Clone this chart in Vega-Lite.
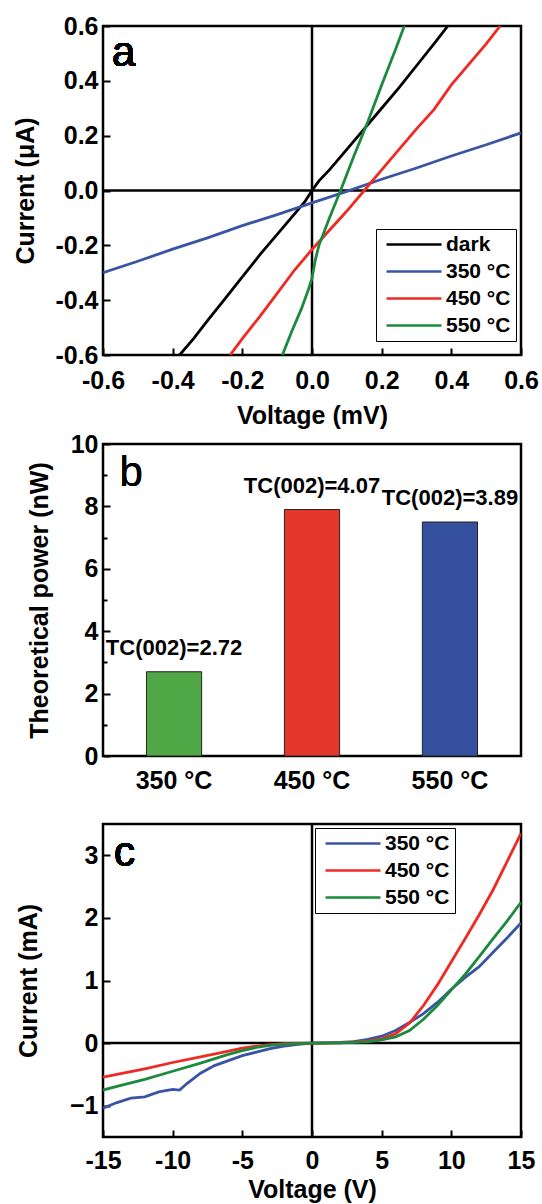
{
  "$schema": "https://vega.github.io/schema/vega-lite/v6.json",
  "background": "white",
  "padding": {"left": 12, "top": 12, "right": 0, "bottom": 0},
  "autosize": {"type": "pad"},
  "spacing": 0,
  "config": {
    "font": "Liberation Sans",
    "view": {"stroke": "black", "strokeWidth": 2.5},
    "axis": {
      "domain": false, "grid": false,
      "labelFont": "Liberation Sans", "labelFontSize": 25, "labelFontWeight": "bold", "labelColor": "black",
      "titleFont": "Liberation Sans", "titleFontSize": 25, "titleFontWeight": "bold", "titleColor": "black",
      "tickColor": "black", "tickWidth": 2,
      "labelOverlap": false, "labelFlush": false, "labelBound": false
    },
    "legend": {
      "title": null, "orient": "none", "symbolType": "M-1,0H10", "symbolSize": 100, "symbolStrokeWidth": 2.5,
      "labelFont": "Liberation Sans", "labelFontSize": 21, "labelFontWeight": "bold", "labelColor": "black",
      "strokeColor": "black", "fillColor": "white", "padding": 5, "rowPadding": 5, "labelOffset": 44
    }
  },
  "resolve": {"scale": {"color": "independent"}, "legend": {"color": "independent"}},
  "vconcat": [
    {
      "width": 418, "height": 329,
      "data": {"values": [
        {"series": "dark", "V": -0.38, "I": -0.6}, {"series": "dark", "V": -0.34, "I": -0.54}, {"series": "dark", "V": -0.3, "I": -0.475},
        {"series": "dark", "V": -0.25, "I": -0.395}, {"series": "dark", "V": -0.2, "I": -0.315}, {"series": "dark", "V": -0.15, "I": -0.235},
        {"series": "dark", "V": -0.1, "I": -0.16}, {"series": "dark", "V": -0.05, "I": -0.085}, {"series": "dark", "V": -0.02, "I": -0.04},
        {"series": "dark", "V": 0.0, "I": 0.0}, {"series": "dark", "V": 0.02, "I": 0.035}, {"series": "dark", "V": 0.05, "I": 0.075},
        {"series": "dark", "V": 0.1, "I": 0.15}, {"series": "dark", "V": 0.15, "I": 0.225}, {"series": "dark", "V": 0.2, "I": 0.3},
        {"series": "dark", "V": 0.25, "I": 0.375}, {"series": "dark", "V": 0.3, "I": 0.455}, {"series": "dark", "V": 0.35, "I": 0.535},
        {"series": "dark", "V": 0.39, "I": 0.6},
        {"series": "350 °C", "V": -0.6, "I": -0.3}, {"series": "350 °C", "V": -0.5, "I": -0.258}, {"series": "350 °C", "V": -0.4, "I": -0.214},
        {"series": "350 °C", "V": -0.3, "I": -0.173}, {"series": "350 °C", "V": -0.2, "I": -0.128}, {"series": "350 °C", "V": -0.1, "I": -0.088},
        {"series": "350 °C", "V": 0.0, "I": -0.045}, {"series": "350 °C", "V": 0.1, "I": -0.003}, {"series": "350 °C", "V": 0.2, "I": 0.041},
        {"series": "350 °C", "V": 0.3, "I": 0.082}, {"series": "350 °C", "V": 0.4, "I": 0.126}, {"series": "350 °C", "V": 0.5, "I": 0.167},
        {"series": "350 °C", "V": 0.6, "I": 0.21},
        {"series": "450 °C", "V": -0.235, "I": -0.6}, {"series": "450 °C", "V": -0.2, "I": -0.54}, {"series": "450 °C", "V": -0.15, "I": -0.46},
        {"series": "450 °C", "V": -0.1, "I": -0.375}, {"series": "450 °C", "V": -0.05, "I": -0.29}, {"series": "450 °C", "V": 0.0, "I": -0.215},
        {"series": "450 °C", "V": 0.05, "I": -0.145}, {"series": "450 °C", "V": 0.1, "I": -0.075}, {"series": "450 °C", "V": 0.15, "I": 0.0},
        {"series": "450 °C", "V": 0.2, "I": 0.075}, {"series": "450 °C", "V": 0.25, "I": 0.15}, {"series": "450 °C", "V": 0.3, "I": 0.225},
        {"series": "450 °C", "V": 0.35, "I": 0.295}, {"series": "450 °C", "V": 0.4, "I": 0.385}, {"series": "450 °C", "V": 0.45, "I": 0.46},
        {"series": "450 °C", "V": 0.5, "I": 0.535}, {"series": "450 °C", "V": 0.54, "I": 0.6},
        {"series": "550 °C", "V": -0.085, "I": -0.6}, {"series": "550 °C", "V": -0.06, "I": -0.52}, {"series": "550 °C", "V": -0.03, "I": -0.43},
        {"series": "550 °C", "V": -0.01, "I": -0.36}, {"series": "550 °C", "V": 0.0, "I": -0.32}, {"series": "550 °C", "V": 0.01, "I": -0.25},
        {"series": "550 °C", "V": 0.02, "I": -0.2}, {"series": "550 °C", "V": 0.05, "I": -0.1}, {"series": "550 °C", "V": 0.082, "I": 0.0},
        {"series": "550 °C", "V": 0.12, "I": 0.125}, {"series": "550 °C", "V": 0.16, "I": 0.25}, {"series": "550 °C", "V": 0.2, "I": 0.385},
        {"series": "550 °C", "V": 0.24, "I": 0.515}, {"series": "550 °C", "V": 0.265, "I": 0.6}
      ]},
      "layer": [
        {
          "data": {"values": [{"I": 0}]},
          "mark": {"type": "rule", "color": "black", "strokeWidth": 2.5},
          "encoding": {"y": {"field": "I", "type": "quantitative"}}
        },
        {
          "data": {"values": [{"V": 0}]},
          "mark": {"type": "rule", "color": "black", "strokeWidth": 2.5},
          "encoding": {"x": {"field": "V", "type": "quantitative"}}
        },
        {
          "mark": {"type": "line", "strokeWidth": 2.8, "clip": true},
          "encoding": {
            "x": {"field": "V", "type": "quantitative", "title": "Voltage (mV)", "scale": {"domain": [-0.6, 0.6], "nice": false, "zero": false},
              "axis": {"values": [-0.6, -0.5, -0.4, -0.3, -0.2, -0.1, 0, 0.1, 0.2, 0.3, 0.4, 0.5, 0.6],
                "labelExpr": "abs(round(datum.value*10))%2==0 ? replace(format(datum.value,'.1f'),'\u2212','-') : ''",
                "tickSize": {"condition": {"test": "abs(round(datum.value*10))%2==0", "value": -7}, "value": -4},
                "labelPadding": 20, "titlePadding": 10}},
            "y": {"field": "I", "type": "quantitative", "title": "Current (μA)", "scale": {"domain": [-0.6, 0.6], "nice": false, "zero": false},
              "axis": {"values": [-0.6, -0.5, -0.4, -0.3, -0.2, -0.1, 0, 0.1, 0.2, 0.3, 0.4, 0.5, 0.6],
                "labelExpr": "abs(round(datum.value*10))%2==0 ? replace(format(datum.value,'.1f'),'\u2212','-') : ''",
                "tickSize": {"condition": {"test": "abs(round(datum.value*10))%2==0", "value": -7}, "value": -4},
                "labelPadding": 12, "titlePadding": 16}},
            "color": {"field": "series", "type": "nominal",
              "scale": {"domain": ["dark", "350 °C", "450 °C", "550 °C"], "range": ["#000000", "#3a54a4", "#ee2a24", "#1c8a3e"]},
              "legend": {"legendX": 273, "legendY": 203}}
          }
        },
        {
          "mark": {"type": "text", "text": "a", "font": "Liberation Sans", "fontSize": 42, "color": "black", "align": "left", "baseline": "alphabetic", "dx": 9, "dy": 40},
          "encoding": {"x": {"datum": -0.6, "type": "quantitative"}, "y": {"datum": 0.6, "type": "quantitative"}}
        }
      ]
    },
    {
      "width": 418, "height": 312,
      "data": {"values": [
        {"T": "350 °C", "P": 2.7, "TC": "TC(002)=2.72"},
        {"T": "450 °C", "P": 7.9, "TC": "TC(002)=4.07"},
        {"T": "550 °C", "P": 7.5, "TC": "TC(002)=3.89"}
      ]},
      "encoding": {
        "x": {"field": "T", "type": "nominal", "sort": null, "scale": {"paddingInner": 0.6, "paddingOuter": 0.315},
          "axis": {"title": " ", "titleFontSize": 12, "titlePadding": 15, "labelAngle": 0, "ticks": false, "labelPadding": 12}},
        "y": {"field": "P", "type": "quantitative", "scale": {"domain": [0, 10], "nice": false},
          "axis": {"title": "Theoretical power (nW)", "values": [0, 1, 2, 3, 4, 5, 6, 7, 8, 9, 10],
            "labelExpr": "datum.value%2==0 ? format(datum.value,'d') : ''",
            "tickSize": {"condition": {"test": "datum.value%2==0", "value": -7}, "value": -4},
            "labelPadding": 12, "titlePadding": 18}}
      },
      "layer": [
        {
          "mark": {"type": "bar", "stroke": "#222222", "strokeWidth": 1},
          "encoding": {"color": {"field": "T", "type": "nominal", "sort": null,
            "scale": {"domain": ["350 °C", "450 °C", "550 °C"], "range": ["#4fa745", "#e5362c", "#35509f"]}, "legend": null}}
        },
        {
          "mark": {"type": "text", "baseline": "bottom", "dy": -12, "fontSize": 22, "fontWeight": "bold", "font": "Liberation Sans", "color": "black"},
          "encoding": {"text": {"field": "TC"}}
        },
        {
          "mark": {"type": "text", "text": "b", "font": "Liberation Sans", "fontSize": 42, "color": "black", "align": "left", "baseline": "alphabetic", "dx": -27, "dy": 42},
          "encoding": {"x": {"datum": "350 °C", "bandPosition": 0}, "y": {"datum": 10, "type": "quantitative"}}
        }
      ]
    },
    {
      "width": 418, "height": 313,
      "data": {"values": [
        {"series": "350 °C", "V": -15, "I": -1.04}, {"series": "350 °C", "V": -14, "I": -0.95}, {"series": "350 °C", "V": -13, "I": -0.88},
        {"series": "350 °C", "V": -12, "I": -0.86}, {"series": "350 °C", "V": -11, "I": -0.78}, {"series": "350 °C", "V": -10, "I": -0.74},
        {"series": "350 °C", "V": -9.5, "I": -0.75}, {"series": "350 °C", "V": -9, "I": -0.65}, {"series": "350 °C", "V": -8, "I": -0.48},
        {"series": "350 °C", "V": -7, "I": -0.36}, {"series": "350 °C", "V": -6, "I": -0.28}, {"series": "350 °C", "V": -5, "I": -0.2},
        {"series": "350 °C", "V": -4, "I": -0.145}, {"series": "350 °C", "V": -3, "I": -0.09}, {"series": "350 °C", "V": -2, "I": -0.05},
        {"series": "350 °C", "V": -1, "I": -0.02}, {"series": "350 °C", "V": 0, "I": 0.0}, {"series": "350 °C", "V": 1, "I": 0.003},
        {"series": "350 °C", "V": 2, "I": 0.01}, {"series": "350 °C", "V": 3, "I": 0.025}, {"series": "350 °C", "V": 4, "I": 0.06},
        {"series": "350 °C", "V": 5, "I": 0.11}, {"series": "350 °C", "V": 6, "I": 0.2}, {"series": "350 °C", "V": 7, "I": 0.33},
        {"series": "350 °C", "V": 8, "I": 0.47}, {"series": "350 °C", "V": 9, "I": 0.65}, {"series": "350 °C", "V": 10, "I": 0.86},
        {"series": "350 °C", "V": 11, "I": 1.05}, {"series": "350 °C", "V": 12, "I": 1.22}, {"series": "350 °C", "V": 13, "I": 1.45},
        {"series": "350 °C", "V": 14, "I": 1.68}, {"series": "350 °C", "V": 15, "I": 1.92},
        {"series": "450 °C", "V": -15, "I": -0.545}, {"series": "450 °C", "V": -14, "I": -0.5}, {"series": "450 °C", "V": -12, "I": -0.41},
        {"series": "450 °C", "V": -10, "I": -0.31}, {"series": "450 °C", "V": -8, "I": -0.22}, {"series": "450 °C", "V": -6, "I": -0.13},
        {"series": "450 °C", "V": -5, "I": -0.08}, {"series": "450 °C", "V": -4, "I": -0.05}, {"series": "450 °C", "V": -3, "I": -0.025},
        {"series": "450 °C", "V": -2, "I": -0.01}, {"series": "450 °C", "V": 0, "I": 0.0}, {"series": "450 °C", "V": 2, "I": 0.005},
        {"series": "450 °C", "V": 4, "I": 0.03}, {"series": "450 °C", "V": 5, "I": 0.07}, {"series": "450 °C", "V": 6, "I": 0.15},
        {"series": "450 °C", "V": 7, "I": 0.32}, {"series": "450 °C", "V": 8, "I": 0.6}, {"series": "450 °C", "V": 9, "I": 0.93},
        {"series": "450 °C", "V": 10, "I": 1.3}, {"series": "450 °C", "V": 11, "I": 1.67}, {"series": "450 °C", "V": 12, "I": 2.05},
        {"series": "450 °C", "V": 13, "I": 2.45}, {"series": "450 °C", "V": 14, "I": 2.9}, {"series": "450 °C", "V": 15, "I": 3.35},
        {"series": "550 °C", "V": -15, "I": -0.75}, {"series": "550 °C", "V": -14, "I": -0.69}, {"series": "550 °C", "V": -12, "I": -0.58},
        {"series": "550 °C", "V": -10, "I": -0.45}, {"series": "550 °C", "V": -8, "I": -0.32}, {"series": "550 °C", "V": -6, "I": -0.18},
        {"series": "550 °C", "V": -5, "I": -0.12}, {"series": "550 °C", "V": -4, "I": -0.07}, {"series": "550 °C", "V": -3, "I": -0.035},
        {"series": "550 °C", "V": -2, "I": -0.015}, {"series": "550 °C", "V": 0, "I": 0.0}, {"series": "550 °C", "V": 2, "I": 0.003},
        {"series": "550 °C", "V": 4, "I": 0.02}, {"series": "550 °C", "V": 5, "I": 0.05}, {"series": "550 °C", "V": 6, "I": 0.1},
        {"series": "550 °C", "V": 7, "I": 0.2}, {"series": "550 °C", "V": 8, "I": 0.38}, {"series": "550 °C", "V": 9, "I": 0.6},
        {"series": "550 °C", "V": 10, "I": 0.85}, {"series": "550 °C", "V": 11, "I": 1.1}, {"series": "550 °C", "V": 12, "I": 1.38},
        {"series": "550 °C", "V": 13, "I": 1.67}, {"series": "550 °C", "V": 14, "I": 1.95}, {"series": "550 °C", "V": 15, "I": 2.25}
      ]},
      "layer": [
        {
          "data": {"values": [{"I": 0}]},
          "mark": {"type": "rule", "color": "black", "strokeWidth": 2.5},
          "encoding": {"y": {"field": "I", "type": "quantitative"}}
        },
        {
          "data": {"values": [{"V": 0}]},
          "mark": {"type": "rule", "color": "black", "strokeWidth": 2.5},
          "encoding": {"x": {"field": "V", "type": "quantitative"}}
        },
        {
          "mark": {"type": "line", "strokeWidth": 2.8, "clip": true},
          "encoding": {
            "x": {"field": "V", "type": "quantitative", "title": "Voltage (V)", "scale": {"domain": [-15, 15], "nice": false, "zero": false},
              "axis": {"values": [-15, -12.5, -10, -7.5, -5, -2.5, 0, 2.5, 5, 7.5, 10, 12.5, 15],
                "labelExpr": "abs(round(datum.value*2))%10==0 ? replace(format(datum.value,'.0f'),'\u2212','-') : ''",
                "tickSize": {"condition": {"test": "abs(round(datum.value*2))%10==0", "value": -7}, "value": -4},
                "labelPadding": 18, "titlePadding": 4}},
            "y": {"field": "I", "type": "quantitative", "title": "Current (mA)", "scale": {"domain": [-1.5, 3.5], "nice": false, "zero": false},
              "axis": {"values": [-1, 0, 1, 2, 3], "format": "d", "tickSize": -7,
                "labelPadding": 12, "titlePadding": 28}},
            "color": {"field": "series", "type": "nominal",
              "scale": {"domain": ["350 °C", "450 °C", "550 °C"], "range": ["#3a54a4", "#ee2a24", "#1c8a3e"]},
              "legend": {"legendX": 212, "legendY": 4}}
          }
        },
        {
          "mark": {"type": "text", "text": "c", "font": "Liberation Sans", "fontSize": 42, "color": "black", "align": "left", "baseline": "alphabetic", "dx": 11, "dy": 42},
          "encoding": {"x": {"datum": -15, "type": "quantitative"}, "y": {"datum": 3.5, "type": "quantitative"}}
        }
      ]
    }
  ]
}
